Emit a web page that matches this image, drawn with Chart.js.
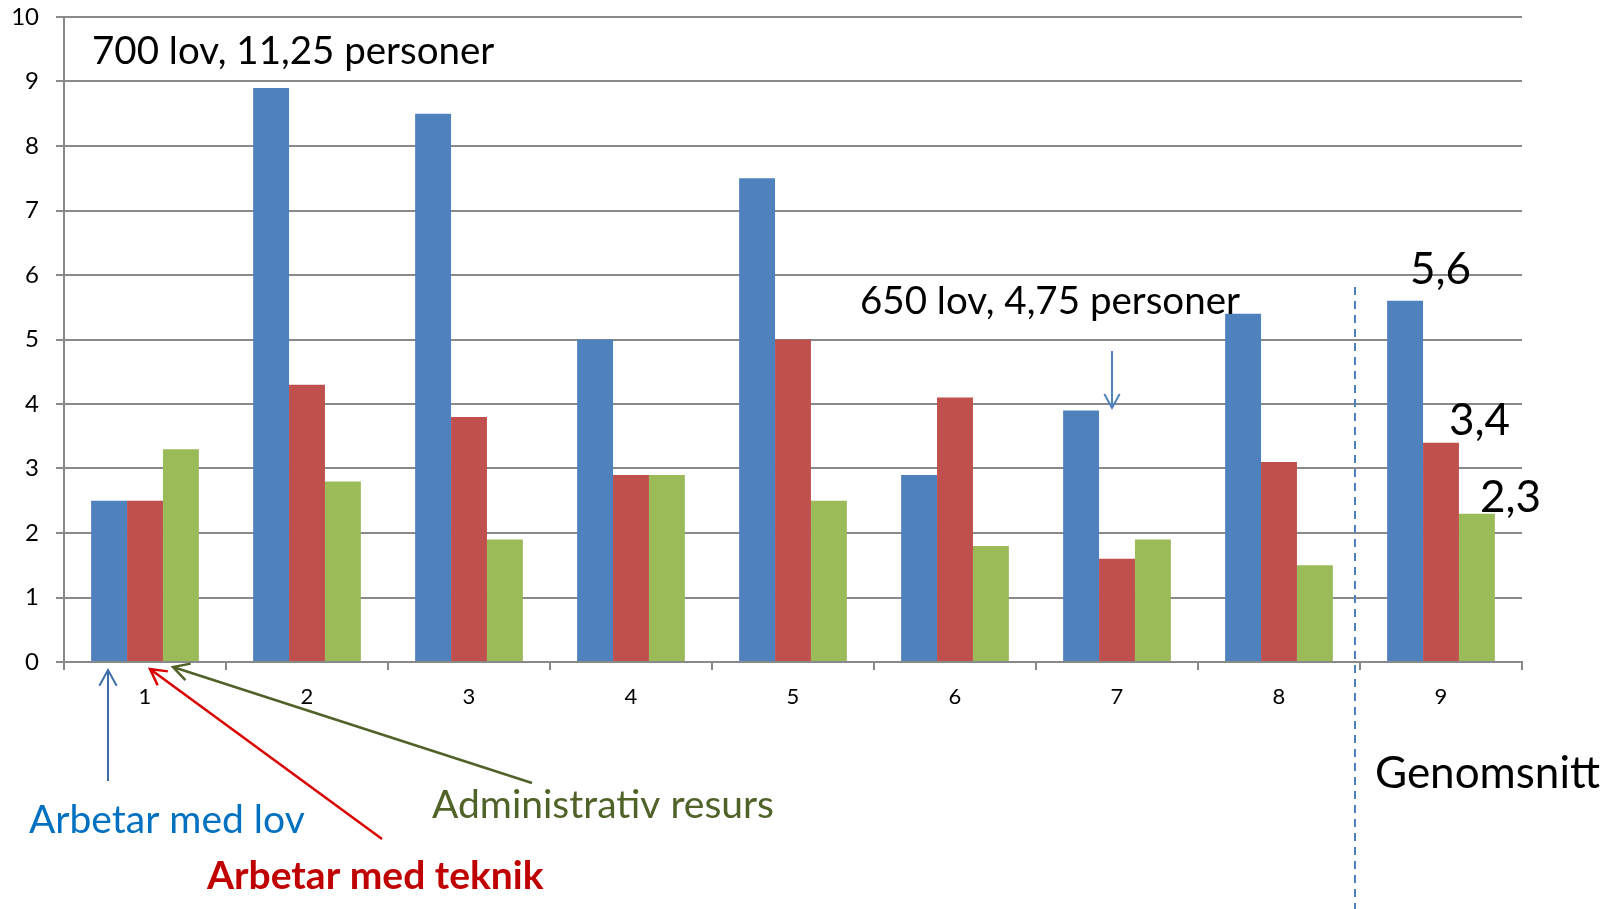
<!DOCTYPE html>
<html>
<head>
<meta charset="utf-8">
<script src="https://cdn.jsdelivr.net/npm/chart.js@4/dist/chart.umd.min.js"></script>
<style>
  body { margin: 0; background: #fff; }
  #wrap { width: 1621px; height: 909px; }
</style>
</head>
<body>
<div id="wrap"><canvas id="chart" width="1621" height="909"></canvas></div>
<script>
// data
const categories = ['1', '2', '3', '4', '5', '6', '7', '8', '9']
const lov = [2.5, 8.9, 8.5, 5.0, 7.5, 2.9, 3.9, 5.4, 5.6]
const teknik = [2.5, 4.3, 3.8, 2.9, 5.0, 4.1, 1.6, 3.1, 3.4]
const admin = [3.3, 2.8, 1.9, 2.9, 2.5, 1.8, 1.9, 1.5, 2.3]
const seriesNames = ['Arbetar med lov', 'Arbetar med teknik', 'Administrativ resurs']

const FONT = 'Lato, "Open Sans", sans-serif'
const gridColor = '#898989'

function arrow(ctx, x1, y1, x2, y2, color, width, head) {
    // line from (x1,y1) to (x2,y2) with an open head at the end
    const a = Math.atan2(y2 - y1, x2 - x1)
    ctx.save()
    ctx.strokeStyle = color
    ctx.lineWidth = width
    ctx.beginPath()
    ctx.moveTo(x1, y1)
    ctx.lineTo(x2, y2)
    ctx.moveTo(x2 - head * Math.cos(a - 0.5), y2 - head * Math.sin(a - 0.5))
    ctx.lineTo(x2, y2)
    ctx.lineTo(x2 - head * Math.cos(a + 0.5), y2 - head * Math.sin(a + 0.5))
    ctx.stroke()
    ctx.restore()
}

function text(ctx, str, x, y, size, color, weight) {
    ctx.save()
    ctx.font = (weight || 'normal') + ' ' + size + 'px ' + FONT
    ctx.fillStyle = color
    ctx.textAlign = 'left'
    ctx.textBaseline = 'middle'
    ctx.fillText(str, x, y)
    ctx.restore()
}

const annotations = {
    id: 'annotations',
    afterDraw(chart) {
        const ctx = chart.ctx
        const x = chart.scales.x

        // separator before the average group
        ctx.save()
        ctx.strokeStyle = '#4F81BD'
        ctx.lineWidth = 2
        ctx.setLineDash([8, 6])
        ctx.beginPath()
        const sx = x.getPixelForValue(7.5) - 5
        ctx.moveTo(sx, 287)
        ctx.lineTo(sx, 909)
        ctx.stroke()
        ctx.restore()

        text(ctx, '700 lov, 11,25 personer', 92, 52, 38.5, '#000')
        text(ctx, '650 lov, 4,75 personer', 860, 302, 38.5, '#000')
        arrow(ctx, 1112, 351, 1112, 408, '#4F81BD', 2, 16)

        text(ctx, '5,6', 1410, 270, 44, '#000')
        text(ctx, '3,4', 1449, 421, 44, '#000')
        text(ctx, '2,3', 1480, 498, 44, '#000')
        text(ctx, 'Genomsnitt', 1375, 774, 44, '#000')

        arrow(ctx, 108, 781, 108, 670, '#3F6EA6', 2, 18)
        arrow(ctx, 382, 839, 150, 669, '#D80000', 2.5, 18)
        arrow(ctx, 532, 783, 173, 667, '#4F6228', 2.5, 18)

        text(ctx, seriesNames[0], 29, 820, 39, '#0070C0')
        text(ctx, seriesNames[1], 207, 876, 39, '#C00000', 'bold')
        text(ctx, seriesNames[2], 432, 805, 39, '#4F6228')
    }
}

const ctx = document.getElementById('chart')

new Chart(ctx, {
    type: 'bar',
    data: {
        labels: categories,
        datasets: [
            { label: seriesNames[0], data: lov, backgroundColor: '#4F81BD' },
            { label: seriesNames[1], data: teknik, backgroundColor: '#C0504D' },
            { label: seriesNames[2], data: admin, backgroundColor: '#9BBB59' },
        ],
    },
    options: {
        responsive: false,
        animation: false,
        categoryPercentage: 0.665,
        barPercentage: 1.0,
        layout: { padding: { top: 17, right: 99, left: 0, bottom: 0 } },
        plugins: {
            legend: { display: false },
            tooltip: { enabled: false },
        },
        scales: {
            x: {
                grid: { offset: true, drawOnChartArea: false, color: gridColor, lineWidth: 2, tickLength: 8 },
                border: { color: gridColor, width: 2 },
                ticks: { color: '#000', font: { family: FONT, size: 22 }, padding: 14 },
                afterFit: (scale) => { scale.height = 247; scale.paddingLeft = 0; scale.paddingRight = 0 },
            },
            y: {
                min: 0,
                max: 10,
                ticks: { stepSize: 1, color: '#000', font: { family: FONT, size: 24 }, padding: 17 },
                grid: { color: gridColor, lineWidth: 2, tickLength: 8 },
                border: { color: gridColor, width: 2 },
                afterFit: (scale) => { scale.width = 64; scale.paddingTop = 0; scale.paddingBottom = 0 },
            },
        },
    },
    plugins: [annotations],
})
</script>
</body>
</html>
